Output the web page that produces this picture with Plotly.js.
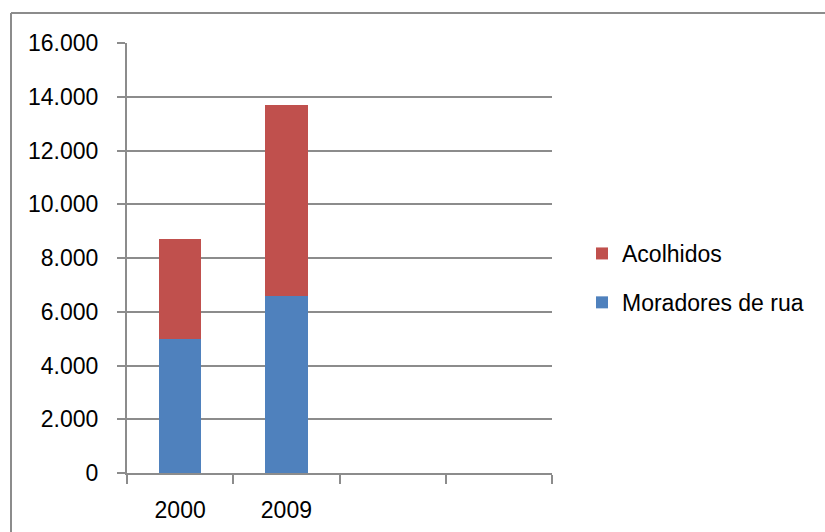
<!DOCTYPE html>
<html><head><meta charset="utf-8">
<script src="https://cdn.plot.ly/plotly-3.0.1.min.js"></script>
<style>html,body{margin:0;padding:0;background:#fff}#chart{width:825px;height:532px}</style>
</head><body><div id="chart"></div>
<script>
const categories = ['2000', '2009'];
const moradores = [5000, 6580];
const acolhidos = [3700, 7110];
const seriesNames = ['Moradores de rua', 'Acolhidos'];
const yTicks = [0, 2000, 4000, 6000, 8000, 10000, 12000, 14000, 16000];
const nSlots = 4;

const W = 825, H = 532;
const M = {l: 127, r: 273, t: 43, b: 59};
const pw = W - M.l - M.r, ph = H - M.t - M.b;
const px = v => (v - M.l) / pw;
const py = v => (H - M.b - v) / ph;
const font = 'Liberation Sans, Arial, sans-serif';
const gray = '#8c8c8c';

const xpos = categories.map((c, i) => i);
const boundaries = [];
for (let i = 0; i <= nSlots; i++) boundaries.push(i - 0.5);

const traces = [
  {type: 'bar', name: seriesNames[0], x: xpos, y: moradores, width: 0.4,
   marker: {color: '#4F81BD'}, legendgroup: 'a', legendrank: 2, hoverinfo: 'skip'},
  {type: 'bar', name: seriesNames[1], x: xpos, y: acolhidos, width: 0.4,
   marker: {color: '#C0504D'}, legendgroup: 'b', legendrank: 1, hoverinfo: 'skip'}
];

const layout = {
  width: W, height: H,
  margin: M,
  barmode: 'stack',
  separators: ',.',
  paper_bgcolor: '#fff', plot_bgcolor: '#fff',
  font: {family: font, size: 23, color: '#000'},
  xaxis: {range: [-0.5, nSlots - 0.5], tickvals: boundaries, ticktext: boundaries.map(() => ''),
    ticks: 'outside', ticklen: 9, tickwidth: 2, tickcolor: gray,
    showline: true, linecolor: gray, linewidth: 2, showgrid: false,
    zeroline: false, fixedrange: true},
  xaxis2: {overlaying: 'x', side: 'bottom', anchor: 'y', range: [-0.5, nSlots - 0.5],
    tickvals: xpos, ticktext: categories, ticks: '', showline: false, showgrid: false,
    zeroline: false, ticklabelstandoff: 21, fixedrange: true},
  yaxis: {range: [0, 16000], tickvals: yTicks, tickformat: ',d',
    ticks: 'outside', ticklen: 8, tickwidth: 2, tickcolor: gray,
    showline: true, linecolor: gray, linewidth: 2,
    showgrid: true, gridcolor: gray, gridwidth: 2, zeroline: false,
    ticklabelstandoff: 14, fixedrange: true},
  legend: {x: px(582), y: py(232), xanchor: 'left', yanchor: 'top',
    traceorder: 'grouped', tracegroupgap: 16,
    font: {family: font, size: 23, color: '#000'}, bgcolor: 'rgba(0,0,0,0)',
    itemclick: false, itemdoubleclick: false},
  showlegend: true,
  shapes: [
    {type: 'line', xref: 'paper', yref: 'paper', x0: px(11), x1: px(830), y0: py(13), y1: py(13),
     line: {color: gray, width: 2}},
    {type: 'line', xref: 'paper', yref: 'paper', x0: px(11), x1: px(11), y0: py(13), y1: py(540),
     line: {color: gray, width: 2}}
  ]
};

// dummy invisible trace so xaxis2 is drawn
traces.push({type: 'scatter', x: [], y: [], xaxis: 'x2', yaxis: 'y', showlegend: false, hoverinfo: 'skip'});

Plotly.newPlot('chart', traces, layout, {displayModeBar: false, staticPlot: true});
</script></body></html>
